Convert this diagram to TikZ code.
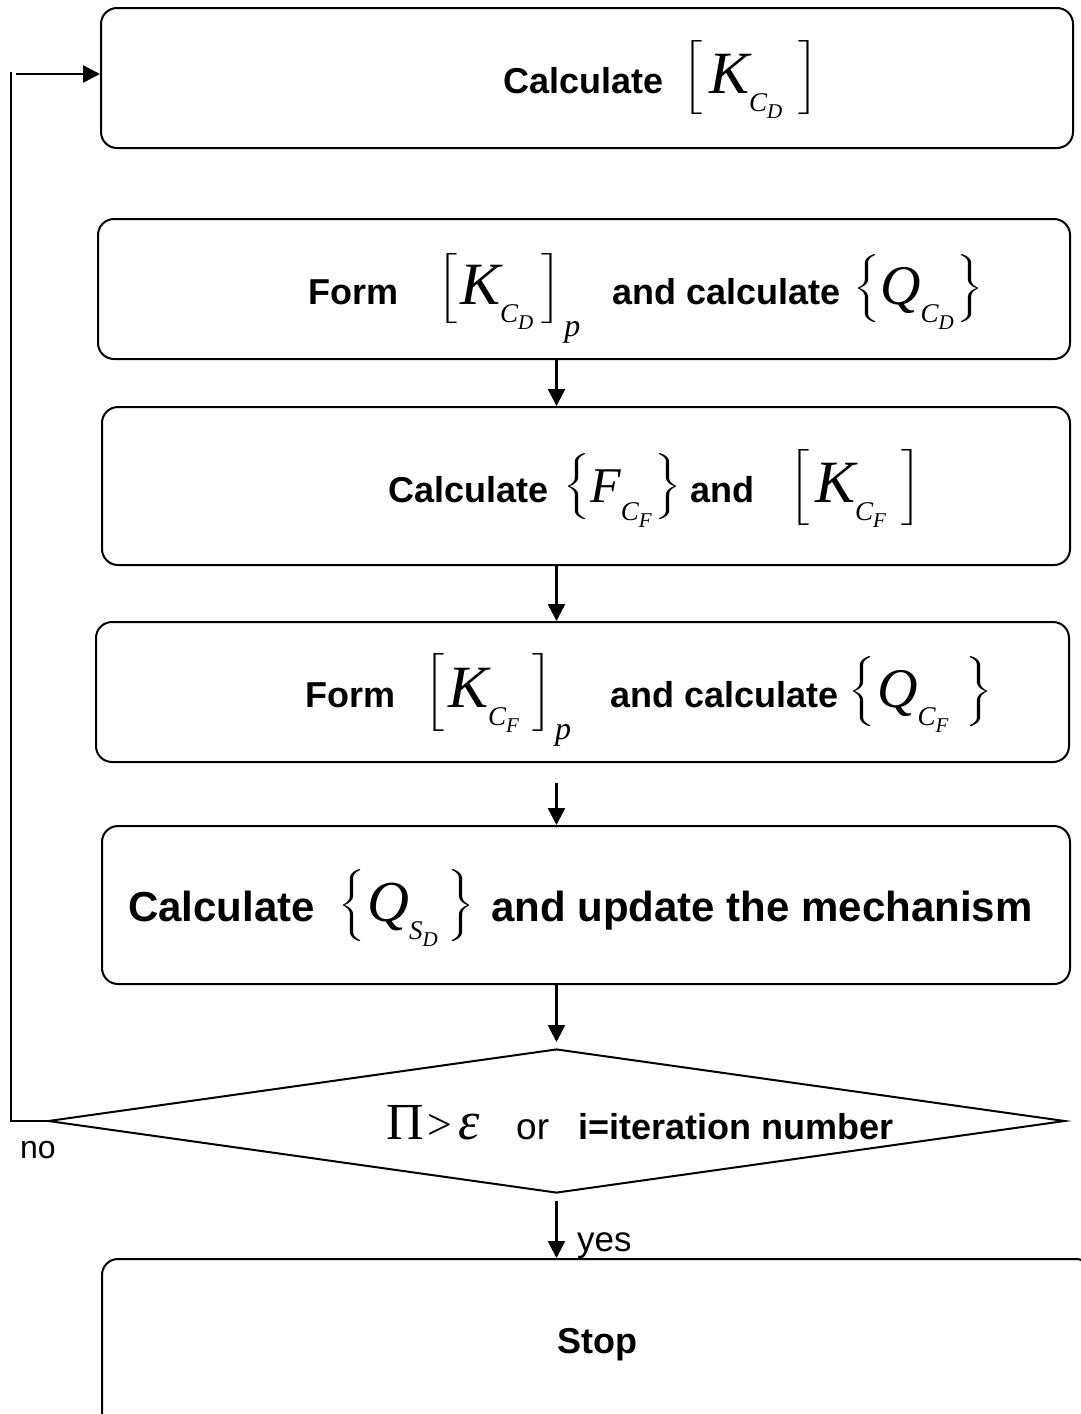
\documentclass[tikz,border=0pt]{standalone}
\usepackage{graphicx}
\usepackage{fontspec}
\setmainfont{Liberation Sans}
\newfontfamily\tim{Liberation Serif}
\usetikzlibrary{arrows.meta,shapes.geometric}

\newcommand\tv[2]{{\fontsize{#1}{#1}\selectfont\tim\itshape #2}}
\newcommand\tu[2]{{\fontsize{#1}{#1}\selectfont\tim #2}}
% scaled delimiter: #1 delimiter, #2 total height (pt), #3 centre above baseline (pt), #4 width (pt)
\newcommand\dl[4]{\raisebox{\dimexpr#3pt-#2pt/2\relax}{\resizebox*{#4pt}{#2pt}{\raisebox{\depth}{\fontsize{10}{12}\selectfont$\Bigg#1$}}}}
% group: #1 left, #2 right, #3 height, #4 delimiter width, #5 gap left, #6 gap right, #7 content
\newcommand\grp[7]{\dl{#1}{#3}{15}{#4}\hspace{#5}#7\hspace{#6}\dl{#2}{#3}{15}{#4}}
\newcommand\sbs[2]{\raisebox{-18pt}{\tv{27}{#1}}\raisebox{-25pt}{\tv{21}{#2}}}
\newcommand\KCD{\tv{60}{K}\sbs{C}{D}}
\newcommand\KCF{\tv{60}{K}\sbs{C}{F}}
\newcommand\QCD{\tv{56}{Q}\sbs{C}{D}}
\newcommand\QCF{\tv{56}{Q}\sbs{C}{F}}
\newcommand\FCF{\tv{50}{F}\sbs{C}{F}}
\newcommand\QSD{\tv{58}{Q}\sbs{S}{D}}
\newcommand\pp{\hspace{3pt}\raisebox{-32pt}{\tv{32}{p}}}

\begin{document}
\begin{tikzpicture}[x=1pt,y=-1pt,
  box/.style={draw, line width=2pt, rounded corners=16pt, inner sep=0pt},
  arr/.style={line width=2.6pt, -{Triangle[length=17pt,width=17pt]}},
  lbl/.style={inner sep=0pt, anchor=base west},
  bt/.style={lbl, font=\bfseries\fontsize{36}{36}\selectfont},
  btbig/.style={lbl, font=\bfseries\fontsize{42}{42}\selectfont},
  rt/.style={lbl, font=\fontsize{36}{36}\selectfont},
  mth/.style={inner sep=0pt, anchor=base west},
  ]
\useasboundingbox (0,0) rectangle (1081,1414);
\fill[white] (0,0) rectangle (1081,1414);
\clip (0,0) rectangle (1081,1414);

% boxes
\node[box, minimum width=972pt, minimum height=140pt] (b1) at (587,78) {};
\node[box, minimum width=972pt, minimum height=140pt] (b2) at (584,289) {};
\node[box, minimum width=968pt, minimum height=158pt] (b3) at (586,486) {};
\node[box, minimum width=973pt, minimum height=140pt] (b4) at (582.5,692) {};
\node[box, minimum width=968pt, minimum height=158pt] (b5) at (586,905) {};
\node[draw, diamond, line width=2pt, minimum width=1017pt, minimum height=144pt, inner sep=0pt] (d) at (556.5,1121) {};
\node[box, minimum width=990pt, minimum height=181pt] (stop) at (597,1349.5) {};

% box 1
\node[bt] (t1) at (503,93) {Calculate};
\node[mth] (m1) at (682,93) {\grp{[}{]}{74}{20}{7pt}{16pt}{\KCD}};

% box 2
\node[bt] (t2a) at (308,304) {Form};
\node[mth] (m2a) at (437,304) {\grp{[}{]}{70}{20}{3pt}{8pt}{\KCD}\pp};
\node[bt] (t2b) at (612,304) {and calculate};
\node[mth] (m2b) at (853,304) {\grp{\{}{\}}{68}{27}{0pt}{3pt}{\QCD}};

% box 3
\node[bt] (t3a) at (388,502) {Calculate};
\node[mth] (m3a) at (563,502) {\grp{\{}{\}}{66}{27}{0pt}{3pt}{\FCF}};
\node[bt] (t3b) at (690,502) {and};
\node[mth] (m3b) at (789,502) {\grp{[}{]}{76}{20}{6pt}{15pt}{\KCF}};

% box 4
\node[bt] (t4a) at (305,707) {Form};
\node[mth] (m4a) at (424,707) {\grp{[}{]}{78}{20}{4pt}{13pt}{\KCF}\pp};
\node[bt] (t4b) at (610,707) {and calculate};
\node[mth] (m4b) at (848,707) {\grp{\{}{\}}{70}{27}{2pt}{17pt}{\QCF}};

% box 5
\node[btbig] (t5a) at (128,921) {Calculate};
\node[mth] (m5a) at (338,921) {\grp{\{}{\}}{72}{27}{2pt}{10pt}{\QSD}};
\node[btbig] (t5b) at (491,921) {and update the mechanism};

% diamond text
\node[lbl] (pe) at (386,1139) {\tu{52}{Π}\hspace{4pt}\tu{44}{>}\hspace{6pt}\tv{54}{ε}};
\node[rt, font=\fontsize{37}{37}\selectfont] (or) at (516,1139) {or};
\node[bt] (it) at (578,1139) {i=iteration number};
\node[rt, font=\fontsize{32}{32}\selectfont] (no) at (20,1158) {no};
\node[rt, font=\fontsize{35}{35}\selectfont] (yes) at (577,1251) {yes};

% stop
\node[bt] (st) at (557,1353) {Stop};

% connectors
\coordinate (a4) at ([yshift=-20pt]b4.south);
\coordinate (a6) at ([yshift=-7pt]d.south);
\coordinate (e5) at ([yshift=6pt]d.north);
\draw[arr] (b2.south -| d.north) -- (b3.north -| d.north);
\draw[arr] (b3.south -| d.north) -- (b4.north -| d.north);
\draw[arr] (a4 -| d.north) -- (b5.north -| d.north);
\draw[arr] (b5.south -| d.north) -- (e5);
\draw[arr] (a6) -- (stop.north -| d.south);

% feedback
\coordinate (fbb) at (11,1121);
\coordinate (fbt) at (11,72);
\coordinate (fbs) at (16,74);
\draw[line width=1.8pt] (d.west) -- (fbb) -- (fbt);
\draw[arr] (fbs) -- (fbs -| b1.west);
\end{tikzpicture}
\end{document}
